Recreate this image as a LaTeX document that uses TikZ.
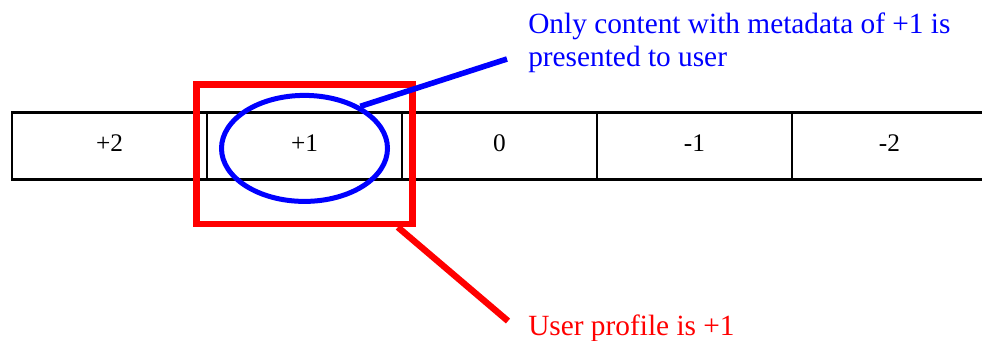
\documentclass[tikz,border=0pt]{standalone}
\usepackage{fontspec}
\setmainfont{Liberation Serif}
\usetikzlibrary{positioning,shapes.geometric}

\begin{document}
\begin{tikzpicture}[x=0.75pt,y=-0.75pt,node distance=0pt]
  \tikzstyle{cell}=[draw,line width=1.6pt,minimum width=146.25pt,minimum height=50.25pt,inner sep=0pt,outer sep=0pt,text depth=3.75pt,font=\fontsize{19}{23}\selectfont]
  \tikzstyle{profilebox}=[draw=red,line width=4.8pt,minimum width=162pt,minimum height=104.6pt,inner sep=0pt]
  \tikzstyle{contentoval}=[ellipse,draw=blue,line width=3.75pt,minimum width=124.5pt,minimum height=79.5pt,inner sep=0pt]
  \tikzstyle{note}=[anchor=base west,align=left,inner sep=0pt,font=\fontsize{22}{24.75}\selectfont]

  \clip (0,0) rectangle (982,340);

  \node[cell] (p2) at (109.5,146) {+2};
  \node[cell,right=of p2] (p1) {+1};
  \node[cell,right=of p1] (z0) {0};
  \node[cell,right=of z0] (m1) {-1};
  \node[cell,right=of m1] (m2) {-2};

  \node[profilebox] (box) at (304.5,154.25) {};
  \node[contentoval] (oval) at (304.5,148.4) {};

  \node[note,text=blue] (shown) at (528,66.7) {Only content with metadata of +1 is\\presented to user};
  \node[note,text=red] (user) at (528,335) {User profile is +1};

  \coordinate (shownend) at (507,59);
  \coordinate (userend) at (508,321);

  \draw[red,line width=4.8pt] (box.-38) -- (userend);
  \draw[blue,line width=4.2pt] (oval.37) -- (shownend);

\end{tikzpicture}
\end{document}
